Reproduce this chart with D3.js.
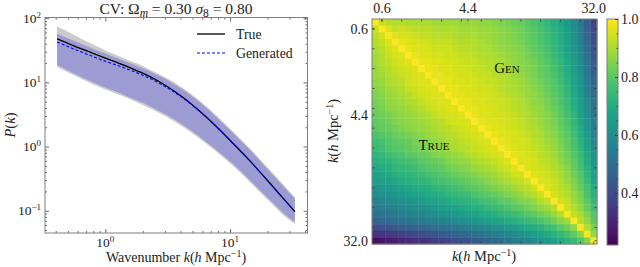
<!DOCTYPE html>
<html>
<head>
<meta charset="utf-8">
<script src="https://cdn.jsdelivr.net/npm/d3@7/dist/d3.min.js"></script>
<style>
body { margin: 0; background: #fff; }
svg { font-family: "Liberation Serif", "DejaVu Serif", serif; }
</style>
</head>
<body>
<svg width="640" height="267"></svg>
<script>
// ---- power spectrum panel data ----
var kVals   = [0.41, 0.56, 0.76, 1.0, 1.39, 1.78, 2.28, 3.09, 4.2, 5.75, 7.87, 10.7, 14.5, 20.9, 26.6, 33.1];
var truePk  = [47.9, 37.2, 29.4, 23.9, 18.7, 15.3, 12.3, 8.79, 5.81, 3.51, 2.0, 1.094, 0.592, 0.268, 0.157, 0.097];
var genPk   = [42.7, 33.1, 26.2, 21.3, 17.1, 14.2, 11.5, 8.4, 5.68, 3.51, 2.0, 1.094, 0.592, 0.268, 0.157, 0.097];
var trueHi  = [74.1, 55.0, 40.6, 31.5, 24.1, 19.8, 15.8, 11.7, 8.11, 5.13, 2.99, 1.67, 0.927, 0.43, 0.258, 0.163];
var trueLo  = [17.4, 12.9, 9.7, 7.74, 6.06, 4.91, 3.97, 2.91, 2.02, 1.31, 0.813, 0.489, 0.276, 0.137, 0.087, 0.062];
var genHi   = [57.5, 44.7, 34.6, 28.1, 22.0, 18.2, 14.8, 11.1, 7.66, 4.84, 2.82, 1.58, 0.875, 0.406, 0.244, 0.154];
var genLo   = [18.6, 13.8, 10.4, 8.3, 6.49, 5.26, 4.26, 3.12, 2.16, 1.40, 0.871, 0.524, 0.296, 0.147, 0.093, 0.066];

// ---- correlation matrix data ----
// upper triangle (Gen): genCols[j] = rows 0..j-1 of column j
var genCols = [
  [],
  [.93],
  [.92,.96],
  [.91,.93,.96],
  [.91,.94,.95,.97],
  [.90,.93,.95,.96,.97],
  [.90,.92,.94,.95,.96,.97],
  [.90,.92,.93,.95,.96,.96,.97],
  [.90,.92,.93,.94,.95,.96,.97,.97],
  [.89,.91,.92,.93,.94,.95,.96,.97,.97],
  [.89,.90,.92,.93,.94,.95,.96,.96,.97,.97],
  [.89,.90,.92,.93,.94,.94,.95,.96,.96,.97,.97],
  [.89,.90,.91,.92,.93,.94,.95,.95,.96,.96,.97,.97],
  [.88,.89,.90,.91,.92,.93,.94,.95,.95,.96,.96,.97,.97],
  [.88,.89,.90,.91,.92,.93,.93,.94,.95,.95,.96,.96,.97,.97],
  [.88,.89,.90,.91,.91,.92,.93,.93,.94,.95,.95,.96,.96,.97,.97],
  [.87,.88,.89,.90,.90,.91,.92,.93,.93,.94,.94,.95,.96,.96,.96,.97],
  [.87,.88,.89,.89,.90,.91,.91,.92,.93,.93,.94,.95,.95,.96,.96,.96,.97],
  [.86,.87,.88,.88,.89,.90,.91,.91,.92,.93,.93,.94,.94,.95,.95,.96,.96,.97],
  [.85,.86,.87,.87,.88,.89,.90,.90,.91,.92,.92,.93,.94,.94,.95,.95,.96,.96,.97],
  [.84,.85,.86,.86,.87,.88,.89,.89,.90,.91,.91,.92,.93,.93,.94,.95,.95,.96,.96,.97],
  [.83,.84,.85,.85,.86,.87,.87,.88,.89,.90,.90,.91,.92,.92,.93,.94,.94,.95,.95,.96,.97],
  [.82,.83,.83,.84,.85,.86,.86,.87,.88,.89,.89,.90,.91,.91,.92,.93,.93,.94,.95,.95,.96,.96],
  [.80,.81,.82,.82,.83,.84,.85,.85,.86,.87,.88,.88,.89,.90,.91,.91,.92,.93,.94,.94,.95,.96,.96],
  [.78,.79,.80,.80,.81,.82,.83,.84,.84,.85,.86,.87,.87,.88,.89,.90,.91,.91,.92,.93,.94,.95,.95,.96],
  [.76,.77,.78,.78,.79,.80,.81,.82,.82,.83,.84,.85,.86,.87,.87,.88,.89,.90,.91,.92,.92,.93,.94,.95,.96],
  [.74,.75,.76,.76,.77,.78,.79,.80,.80,.81,.82,.83,.84,.85,.86,.86,.87,.88,.89,.90,.91,.92,.93,.94,.95,.96],
  [.71,.72,.73,.73,.74,.75,.76,.77,.78,.79,.79,.80,.81,.82,.83,.84,.85,.86,.87,.88,.89,.90,.91,.92,.93,.94,.95],
  [.68,.69,.70,.70,.71,.72,.73,.74,.75,.76,.77,.78,.78,.79,.80,.81,.82,.83,.84,.85,.86,.87,.89,.90,.91,.92,.93,.95],
  [.64,.65,.66,.67,.67,.68,.69,.70,.71,.72,.73,.74,.75,.76,.77,.78,.79,.80,.81,.82,.83,.84,.86,.87,.88,.90,.91,.93,.94],
  [.59,.60,.61,.62,.63,.64,.65,.65,.66,.67,.68,.69,.70,.71,.73,.74,.75,.76,.77,.78,.79,.81,.82,.83,.85,.86,.88,.89,.91,.93],
  [.53,.54,.55,.56,.57,.58,.59,.60,.61,.62,.63,.64,.65,.66,.67,.68,.70,.71,.72,.73,.75,.76,.77,.79,.80,.82,.84,.85,.87,.90,.92],
  [.46,.47,.48,.49,.50,.51,.52,.53,.54,.55,.56,.57,.59,.60,.61,.62,.63,.65,.66,.67,.69,.70,.72,.73,.75,.77,.78,.80,.82,.85,.87,.91],
  [.38,.39,.40,.41,.42,.43,.44,.45,.46,.48,.49,.50,.51,.52,.53,.55,.56,.57,.59,.60,.62,.63,.65,.66,.68,.70,.72,.74,.76,.79,.81,.84,.88]
];
// lower triangle (True): trueRows[i] = columns 0..i-1 of row i
var trueRows = [
  [],
  [.93],
  [.92,.95],
  [.91,.93,.96],
  [.90,.92,.94,.96],
  [.89,.91,.93,.95,.96],
  [.89,.91,.92,.94,.95,.96],
  [.88,.90,.91,.93,.94,.95,.96],
  [.88,.89,.91,.92,.93,.94,.96,.96],
  [.87,.88,.90,.91,.92,.94,.95,.96,.96],
  [.86,.87,.89,.90,.91,.93,.94,.95,.96,.96],
  [.85,.86,.88,.89,.90,.91,.93,.94,.95,.96,.96],
  [.84,.85,.87,.88,.89,.90,.91,.93,.94,.95,.96,.96],
  [.83,.84,.86,.87,.88,.89,.90,.91,.93,.94,.95,.96,.96],
  [.82,.83,.84,.86,.87,.88,.89,.90,.91,.93,.94,.95,.95,.96],
  [.81,.82,.83,.85,.86,.87,.88,.89,.90,.91,.92,.94,.95,.95,.96],
  [.80,.81,.82,.83,.85,.86,.87,.88,.89,.90,.91,.92,.93,.94,.95,.96],
  [.78,.79,.80,.82,.83,.84,.85,.86,.88,.89,.90,.91,.92,.93,.94,.95,.96],
  [.76,.77,.79,.80,.81,.82,.84,.85,.86,.87,.88,.90,.91,.92,.93,.94,.95,.96],
  [.75,.76,.78,.79,.80,.81,.83,.84,.85,.86,.87,.89,.90,.91,.92,.93,.94,.95,.96],
  [.73,.74,.76,.77,.78,.80,.81,.82,.83,.85,.86,.87,.88,.89,.91,.92,.93,.94,.95,.96],
  [.71,.72,.73,.75,.76,.77,.78,.80,.81,.82,.83,.85,.86,.87,.88,.90,.91,.92,.93,.94,.96],
  [.69,.70,.71,.73,.74,.75,.76,.78,.79,.80,.81,.83,.84,.85,.86,.88,.89,.90,.91,.93,.94,.96],
  [.67,.68,.69,.71,.72,.73,.74,.75,.77,.78,.79,.80,.82,.83,.84,.85,.87,.88,.89,.91,.92,.94,.95],
  [.65,.66,.67,.68,.70,.71,.72,.73,.74,.76,.77,.78,.79,.80,.82,.83,.84,.86,.87,.89,.90,.92,.93,.95],
  [.62,.63,.64,.65,.67,.68,.69,.70,.71,.73,.74,.75,.76,.78,.79,.80,.82,.83,.84,.86,.87,.89,.91,.92,.94],
  [.60,.61,.62,.63,.64,.65,.67,.68,.69,.70,.71,.73,.74,.75,.76,.78,.79,.80,.82,.83,.85,.86,.88,.90,.92,.94],
  [.57,.58,.59,.60,.61,.62,.63,.65,.66,.67,.68,.69,.71,.72,.73,.74,.76,.77,.78,.80,.81,.83,.85,.86,.88,.91,.93],
  [.54,.55,.56,.57,.58,.59,.60,.61,.62,.64,.65,.66,.67,.68,.70,.71,.72,.74,.75,.76,.78,.80,.81,.83,.85,.87,.89,.92],
  [.51,.52,.53,.54,.55,.56,.57,.58,.59,.60,.61,.62,.64,.65,.66,.67,.69,.70,.71,.73,.74,.76,.77,.79,.81,.83,.85,.88,.91],
  [.47,.48,.49,.50,.51,.52,.53,.54,.55,.56,.57,.58,.59,.60,.62,.63,.64,.65,.67,.68,.70,.71,.73,.75,.76,.78,.80,.83,.86,.89],
  [.41,.42,.43,.44,.45,.46,.47,.48,.49,.50,.51,.52,.53,.54,.56,.57,.58,.59,.61,.62,.64,.65,.67,.69,.70,.72,.75,.77,.80,.83,.87],
  [.33,.34,.35,.36,.37,.38,.39,.40,.42,.43,.44,.45,.46,.48,.49,.50,.52,.53,.55,.56,.58,.59,.61,.63,.65,.67,.69,.72,.74,.77,.81,.86],
  [.25,.26,.27,.28,.30,.31,.32,.33,.34,.36,.37,.38,.40,.41,.42,.44,.45,.47,.48,.50,.52,.54,.55,.57,.59,.62,.64,.66,.69,.72,.75,.79,.85]
];
var kTickIdx = [1, 14, 33];
var kTickLabels = ["0.6", "4.4", "32.0"];
var cbTicks = [0.4, 0.6, 0.8, 1.0];

var svg = d3.select("svg");
var frameColor = "#7f7f7f";

// ================= left panel =================
var x = d3.scaleLog().domain([0.328, 41.8]).range([45, 307.5]);
var y = d3.scaleLog().domain([0.045, 102.6]).range([233, 17.5]);
var lp = svg.append("g");

lp.append("clipPath").attr("id", "clipL").append("rect")
  .attr("x", 45).attr("y", 17.5).attr("width", 262.5).attr("height", 215.5);
var plot = lp.append("g").attr("clip-path", "url(#clipL)");

function band(lo, hi) {
  return d3.area()
    .x(function(d, i) { return x(kVals[i]); })
    .y0(function(d, i) { return y(lo[i]); })
    .y1(function(d, i) { return y(hi[i]); })
    .curve(d3.curveMonotoneX)(kVals);
}
function line(vals) {
  return d3.line()
    .x(function(d, i) { return x(kVals[i]); })
    .y(function(d) { return y(d); })
    .curve(d3.curveMonotoneX)(vals);
}
plot.append("path").attr("d", band(trueLo, trueHi)).attr("fill", "#cbcbcb");
plot.append("path").attr("d", band(genLo, genHi)).attr("fill", "rgb(100,100,220)").attr("fill-opacity", 0.45);
plot.append("path").attr("d", line(truePk)).attr("fill", "none").attr("stroke", "#000").attr("stroke-width", 1.3);
plot.append("path").attr("d", line(genPk)).attr("fill", "none").attr("stroke", "#0000ff")
  .attr("stroke-width", 1.1).attr("stroke-dasharray", "3,2");

// ticks (inward, all four sides)
function isDecade(v) { var l = Math.log10(v); return Math.abs(l - Math.round(l)) < 1e-6; }
var xAll = x.ticks(), yAll = y.ticks();
var xMaj = xAll.filter(isDecade), xMin = xAll.filter(function(v) { return !isDecade(v); });
var yMaj = yAll.filter(isDecade), yMin = yAll.filter(function(v) { return !isDecade(v); });

function tickAxis(g, axis, vals, size) {
  g.call(axis.tickValues(vals).tickSize(size).tickSizeOuter(0).tickFormat(""));
  g.select(".domain").remove();
  g.selectAll(".tick line").attr("stroke", "#444").attr("stroke-width", 0.8);
}
[[xMaj, -4], [xMin, -2]].forEach(function(p) {
  tickAxis(lp.append("g").attr("transform", "translate(0,233)"), d3.axisBottom(x), p[0], p[1]);
  tickAxis(lp.append("g").attr("transform", "translate(0,17.5)"), d3.axisTop(x), p[0], p[1]);
});
[[yMaj, -4], [yMin, -2]].forEach(function(p) {
  tickAxis(lp.append("g").attr("transform", "translate(45,0)"), d3.axisLeft(y), p[0], p[1]);
  tickAxis(lp.append("g").attr("transform", "translate(307.5,0)"), d3.axisRight(y), p[0], p[1]);
});
lp.append("rect").attr("x", 45).attr("y", 17.5).attr("width", 262.5).attr("height", 215.5)
  .attr("fill", "none").attr("stroke", frameColor).attr("stroke-width", 1);

function powLabel(sel, v) {
  var e = Math.round(Math.log10(v));
  sel.append("tspan").text("10");
  sel.append("tspan").attr("dy", -5).attr("font-size", 9).text(String(e).replace("-", "\u2212"));
}
xMaj.forEach(function(v) {
  lp.append("text").attr("x", x(v)).attr("y", 247).attr("text-anchor", "middle")
    .attr("font-size", 13.5).attr("fill", "#222").call(powLabel, v);
});
yMaj.forEach(function(v) {
  lp.append("text").attr("x", 41).attr("y", y(v) + 4.5).attr("text-anchor", "end")
    .attr("font-size", 13.5).attr("fill", "#222").call(powLabel, v);
});

// title
var title = lp.append("text").attr("x", 176).attr("y", 14).attr("text-anchor", "middle")
  .attr("font-size", 15.5).attr("fill", "#222");
title.append("tspan").text("CV: \u03A9");
title.append("tspan").attr("font-style", "italic").attr("font-size", 11.5).attr("dy", 3).text("m");
title.append("tspan").attr("dy", -3).text(" = 0.30 ");
title.append("tspan").attr("font-style", "italic").text("\u03C3");
title.append("tspan").attr("font-size", 11.5).attr("dy", 3).text("8");
title.append("tspan").attr("dy", -3).text(" = 0.80");

// axis labels
var xl = lp.append("text").attr("x", 176).attr("y", 262).attr("text-anchor", "middle")
  .attr("font-size", 14).attr("fill", "#222");
xl.append("tspan").text("Wavenumber ");
xl.append("tspan").attr("font-style", "italic").text("k");
xl.append("tspan").text("(");
xl.append("tspan").attr("font-style", "italic").text("h");
xl.append("tspan").text(" Mpc");
xl.append("tspan").attr("dy", -5).attr("font-size", 10).text("\u22121");
xl.append("tspan").attr("dy", 5).text(")");

var yl = lp.append("text").attr("transform", "translate(15,125) rotate(-90)").attr("text-anchor", "middle")
  .attr("font-size", 14.5).attr("fill", "#222");
yl.append("tspan").attr("font-style", "italic").text("P");
yl.append("tspan").text("(");
yl.append("tspan").attr("font-style", "italic").text("k");
yl.append("tspan").text(")");

// legend
var legend = [{name: "True", color: "#000", dash: null, w: 1.3},
              {name: "Generated", color: "#0000ff", dash: "3,2", w: 1.1}];
legend.forEach(function(d, i) {
  var ly = 34 + i * 19;
  lp.append("line").attr("x1", 197).attr("x2", 225).attr("y1", ly).attr("y2", ly)
    .attr("stroke", d.color).attr("stroke-width", d.w).attr("stroke-dasharray", d.dash);
  lp.append("text").attr("x", 236).attr("y", ly + 4.5).attr("font-size", 13.8).attr("fill", "#222").text(d.name);
});

// ================= right panel =================
var n = trueRows.length;
var matrix = [];
for (var i = 0; i < n; i++) {
  for (var j = 0; j < n; j++) {
    var v = i === j ? 1 : (i < j ? genCols[j][i] : trueRows[i][j]);
    matrix.push({r: i, c: j, v: v});
  }
}
var hx = d3.scaleBand().domain(d3.range(n)).range([372, 597]);
var hy = d3.scaleBand().domain(d3.range(n)).range([19, 244]);
var color = d3.scaleSequential(d3.interpolateViridis).domain([0.22, 1.0]);
var rp = svg.append("g");

rp.selectAll("rect.cell").data(matrix).enter().append("rect").attr("class", "cell")
  .attr("x", function(d) { return hx(d.c); })
  .attr("y", function(d) { return hy(d.r); })
  .attr("width", hx.bandwidth() + 0.4)
  .attr("height", hy.bandwidth() + 0.4)
  .attr("fill", function(d) { return color(d.v); });

// heatmap ticks
var minorIdx = d3.range(1, n, 3);
function hTicks(g, axis, vals, size) {
  g.call(axis.tickValues(vals).tickSize(size).tickSizeOuter(0).tickFormat(""));
  g.select(".domain").remove();
  g.selectAll(".tick line").attr("stroke", "#333").attr("stroke-width", 0.8);
}
hTicks(rp.append("g").attr("transform", "translate(0,19)"), d3.axisTop(hx), minorIdx.concat(kTickIdx), -2.5);
hTicks(rp.append("g").attr("transform", "translate(0,244)"), d3.axisBottom(hx), minorIdx.concat(kTickIdx), -2.5);
hTicks(rp.append("g").attr("transform", "translate(372,0)"), d3.axisLeft(hy), minorIdx.concat(kTickIdx), -2.5);
hTicks(rp.append("g").attr("transform", "translate(597,0)"), d3.axisRight(hy), minorIdx.concat(kTickIdx), -2.5);
rp.append("rect").attr("x", 372).attr("y", 19).attr("width", 225).attr("height", 225)
  .attr("fill", "none").attr("stroke", frameColor).attr("stroke-width", 1);

kTickIdx.forEach(function(idx, t) {
  rp.append("text").attr("x", hx(idx) + hx.bandwidth() / 2).attr("y", 13).attr("text-anchor", "middle")
    .attr("font-size", 14).attr("fill", "#222").text(kTickLabels[t]);
  rp.append("text").attr("x", 368).attr("y", hy(idx) + hy.bandwidth() / 2 + 5).attr("text-anchor", "end")
    .attr("font-size", 14).attr("fill", "#222").text(kTickLabels[t]);
});

rp.append("text").attr("x", 507).attr("y", 73).attr("text-anchor", "middle").attr("font-size", 15)
  .attr("font-variant", "small-caps").attr("fill", "#111").text("Gen");
rp.append("text").attr("x", 434).attr("y", 150).attr("text-anchor", "middle").attr("font-size", 15)
  .attr("font-variant", "small-caps").attr("fill", "#111").text("True");

var hxl = rp.append("text").attr("x", 484).attr("y", 261).attr("text-anchor", "middle")
  .attr("font-size", 14.5).attr("fill", "#222");
var hyl = rp.append("text").attr("transform", "translate(338,131) rotate(-90)").attr("text-anchor", "middle")
  .attr("font-size", 14.5).attr("fill", "#222");
[hxl, hyl].forEach(function(t) {
  t.append("tspan").attr("font-style", "italic").text("k");
  t.append("tspan").text("(");
  t.append("tspan").attr("font-style", "italic").text("h");
  t.append("tspan").text(" Mpc");
  t.append("tspan").attr("dy", -5).attr("font-size", 10).text("\u22121");
  t.append("tspan").attr("dy", 5).text(")");
});

// colorbar
var cb = d3.scaleLinear().domain([0.22, 1.0]).range([245, 19]);
var grad = svg.append("defs").append("linearGradient").attr("id", "cbgrad")
  .attr("x1", 0).attr("y1", 1).attr("x2", 0).attr("y2", 0);
d3.range(0, 1.0001, 0.05).forEach(function(t) {
  grad.append("stop").attr("offset", t).attr("stop-color", d3.interpolateViridis(t));
});
rp.append("rect").attr("x", 607).attr("y", 19).attr("width", 11).attr("height", 226)
  .attr("fill", "url(#cbgrad)").attr("stroke", frameColor).attr("stroke-width", 1);
var cbMinor = d3.range(0.25, 1.0, 0.05).filter(function(v) { return Math.abs(v * 5 - Math.round(v * 5)) > 1e-6; });
hTicks(rp.append("g").attr("transform", "translate(618,0)"), d3.axisRight(cb), cbTicks, -3);
hTicks(rp.append("g").attr("transform", "translate(618,0)"), d3.axisRight(cb), cbMinor, -1.5);
cbTicks.forEach(function(v) {
  rp.append("text").attr("x", 621).attr("y", cb(v) + 5).attr("font-size", 14).attr("fill", "#222")
    .text(d3.format(".1f")(v));
});
</script>
</body>
</html>
